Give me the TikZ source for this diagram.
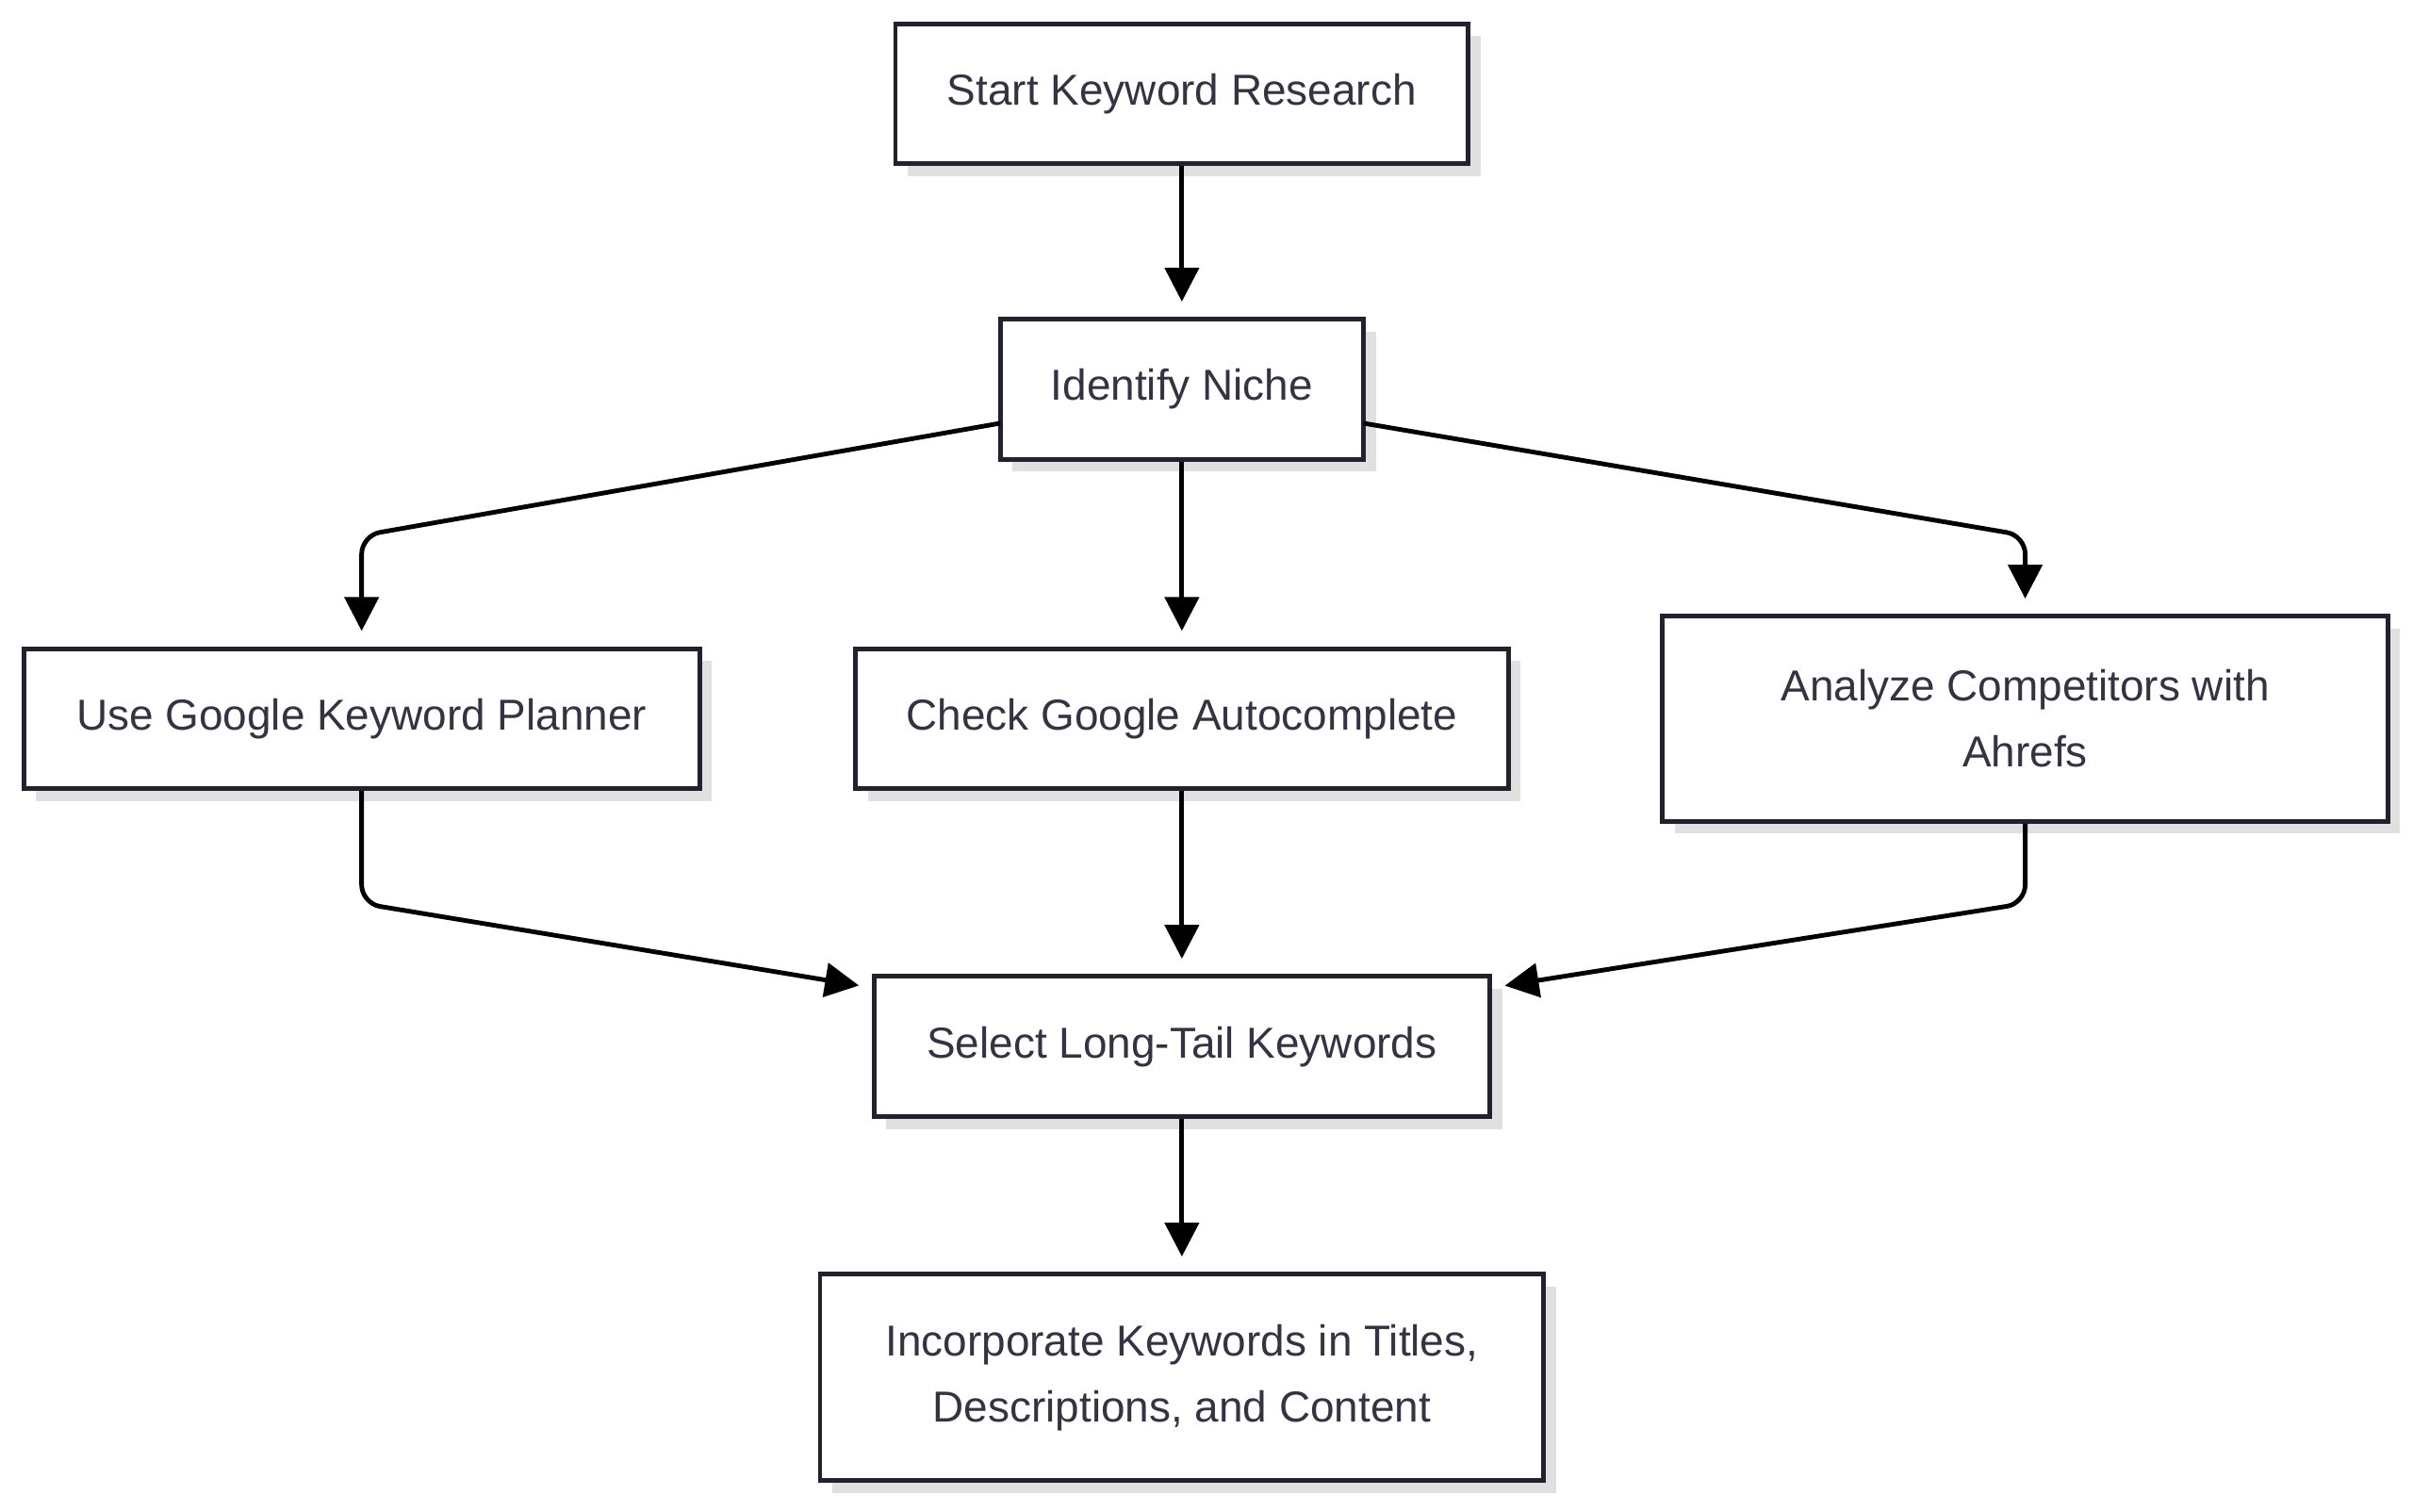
\documentclass[tikz,border=0pt]{standalone}
\usepackage{fontspec}
\setmainfont{Liberation Sans}
\usetikzlibrary{arrows.meta,shadows}
\definecolor{txt}{HTML}{333344}
\definecolor{bd}{HTML}{22222F}
\begin{document}
\begin{tikzpicture}[x=0.01cm,y=-0.01cm,
  box/.style={draw=bd,line width=0.85pt,fill=white,align=center,text=txt,
    font=\fontsize{8}{12.2}\selectfont,inner sep=0pt,
    drop shadow={shadow xshift=0.08cm,shadow yshift=-0.08cm,fill=black!12,opacity=1}},
  arr/.style={line width=0.85pt,rounded corners=0.12cm,shorten >=0.1cm,
    -{Triangle[length=0.22cm,width=0.22cm]}}]
\useasboundingbox (0,0) rectangle (1568,982);
\node[box,minimum width=3.72cm,minimum height=0.91cm] (start) at (768,61) {Start Keyword Research};
\node[box,minimum width=2.36cm,minimum height=0.91cm] (id) at (768,253) {Identify Niche};
\node[box,minimum width=4.39cm,minimum height=0.91cm] (use) at (235,467) {Use Google Keyword Planner};
\node[box,minimum width=4.24cm,minimum height=0.91cm] (chk) at (768,467) {Check Google Autocomplete};
\node[box,minimum width=4.71cm,minimum height=1.33cm] (ana) at (1316,467) {Analyze Competitors with\\Ahrefs};
\node[box,minimum width=4.00cm,minimum height=0.91cm] (sel) at (768,680) {Select Long-Tail Keywords};
\node[box,minimum width=4.70cm,minimum height=1.34cm] (inc) at (768,895) {Incorporate Keywords in Titles,\\Descriptions, and Content};
\coordinate (a1) at (650,275);
\coordinate (a2) at (886,275);
\coordinate (b1) at (568,642);
\coordinate (b2) at (968,642);
\draw[arr] (start) -- (id);
\draw[arr] (id) -- (chk);
\draw[arr] (a1) -- (235,348) -- (use.north);
\draw[arr] (a2) -- (1316,348) -- (ana.north);
\draw[arr] (chk) -- (sel);
\draw[arr] (use.south) -- (235,587) -- (b1);
\draw[arr] (ana.south) -- (1316,587) -- (b2);
\draw[arr] (sel) -- (inc);
\end{tikzpicture}
\end{document}
